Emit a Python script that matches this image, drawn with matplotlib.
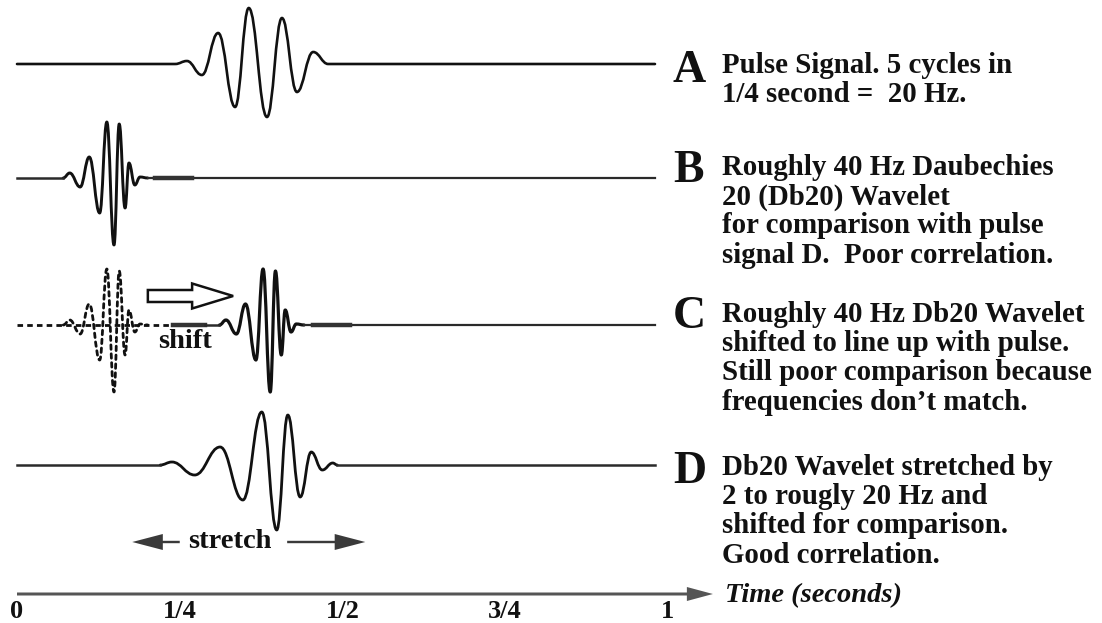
import matplotlib
matplotlib.use('Agg')
import matplotlib.pyplot as plt
from matplotlib.patches import FancyArrow, PathPatch
from matplotlib.path import Path
import numpy as np

# Data (time in seconds, amplitude in pixel units)
# --------------
# A: 20 Hz pulse signal
pulse_t = [0.0, 0.243, 0.261, 0.284, 0.309, 0.335, 0.356, 0.384, 0.407, 0.430, 0.455, 0.478, 0.980]
pulse_a = [0, 0, 3, -11, 31, -43, 56, -53, 46, -28, 12, 0, 0]

# B: roughly 40 Hz Db20 wavelet
db20_t = [0.071, 0.081, 0.097, 0.111, 0.127, 0.138, 0.149, 0.157, 0.166, 0.172, 0.181, 0.189, 0.201]
db20_a = [0, 5, -9, 21, -35, 56, -67, 54, -30, 15, -7, 1, 0]

# C: same wavelet shifted to line up with the pulse
shift_sec = 0.240

# D: wavelet stretched by 2 and shifted
stretch_t = [0.220, 0.238, 0.273, 0.312, 0.347, 0.376, 0.399, 0.416, 0.435, 0.452, 0.469, 0.485, 0.492]
stretch_a = [0, 3, -10, 18, -35, 53, -65, 50, -32, 13, -5, 2, 0]

# Time axis
tick_vals = [0, 0.25, 0.5, 0.75, 1]
tick_labels = ['0', '1/4', '1/2', '3/4', '1']

letters = ['A', 'B', 'C', 'D']
captions = [
    ['Pulse Signal. 5 cycles in', '1/4 second =  20 Hz.'],
    ['Roughly 40 Hz Daubechies', '20 (Db20) Wavelet', 'for comparison with pulse',
     'signal D.  Poor correlation.'],
    ['Roughly 40 Hz Db20 Wavelet', 'shifted to line up with pulse.',
     'Still poor comparison because', 'frequencies don\u2019t match.'],
    ['Db20 Wavelet stretched by', '2 to rougly 20 Hz and', 'shifted for comparison.',
     'Good correlation.'],
]

# Layout
# --------------
PX = 651.0          # pixels per second
X0 = 17.0           # pixel of t = 0
T_END = 0.980
base_y = [64, 178, 325, 465]
letter_base = [82, 182, 328, 483]
caption_base = [73, 175, 322, 475]
line_dy = 29.2
serif = ['Liberation Serif', 'DejaVu Serif']
ink = '#111111'
line_col = '#2a2a2a'

fig = plt.figure(figsize=(11.02, 6.23), dpi=100)
ax = fig.add_axes([0, 0, 1, 1])
ax.set_xlim(-X0 / PX, (1102 - X0) / PX)
ax.set_ylim(623, 0)
ax.set_axis_off()


def wave(y0, t, a, **kw):
    # smooth bezier path through the extrema, flat tangent at each extremum
    t = np.asarray(t, dtype=float)
    y = y0 - np.asarray(a, dtype=float)
    verts = [(t[0], y[0])]
    codes = [Path.MOVETO]
    for i in range(1, len(t)):
        dt = t[i] - t[i - 1]
        verts += [(t[i - 1] + 0.42 * dt, y[i - 1]), (t[i] - 0.42 * dt, y[i]), (t[i], y[i])]
        codes += [Path.CURVE4] * 3
    ax.add_patch(PathPatch(Path(verts, codes), fill=False, capstyle='round',
                           joinstyle='round', **kw))


# A pulse
wave(base_y[0], pulse_t, pulse_a, edgecolor=ink, lw=1.9)

# B wavelet
yb = base_y[1]
ax.plot([0, db20_t[0]], [yb, yb], color=line_col, lw=1.8)
wave(yb, db20_t, db20_a, edgecolor=ink, lw=2.1)
ax.plot([db20_t[-1], T_END], [yb, yb], color=line_col, lw=1.6)
ax.plot([0.212, 0.269], [yb, yb], color='#333333', lw=3.2)

# C: dashed original and shifted copy
yc = base_y[2]
ax.plot([0, 0.240], [yc, yc], color=ink, lw=2.0, ls=(0, (2.0, 1.5)))
wave(yc, db20_t, db20_a, edgecolor=ink, lw=2.0, ls=(0, (1.6, 1.6)))
ax.plot([0.240, 0.289], [yc, yc], color='#333333', lw=3.2)
c_t = np.asarray(db20_t) + shift_sec
ax.plot([0.289, c_t[0]], [yc, yc], color=line_col, lw=1.8)
wave(yc, c_t, db20_a, edgecolor=ink, lw=2.3)
ax.plot([c_t[-1], T_END], [yc, yc], color=line_col, lw=1.6)
ax.plot([0.455, 0.512], [yc, yc], color='#333333', lw=3.2)

# shift arrow (hollow)
ax.add_patch(FancyArrow(0.201, 296, 0.131, 0, width=12, head_width=25,
                        head_length=0.063, length_includes_head=True,
                        facecolor='white', edgecolor=ink, lw=1.8))
ax.text(0.258, 348, 'shift', family=serif, fontsize=20.5, fontweight='bold',
        ha='center', va='baseline', color=ink)

# D stretched wavelet
yd = base_y[3]
ax.plot([0, stretch_t[0]], [yd, yd], color=line_col, lw=1.8)
wave(yd, stretch_t, stretch_a, edgecolor=ink, lw=2.0)
ax.plot([stretch_t[-1], T_END], [yd, yd], color=line_col, lw=1.8)

# stretch arrows
for tail, tip in [(0.250, 0.177), (0.415, 0.535)]:
    ax.add_patch(FancyArrow(tail, 542, tip - tail, 0, width=2.4, head_width=16,
                            head_length=0.047, length_includes_head=True,
                            color='#3a3a3a', lw=0))
ax.text(0.327, 548, 'stretch', family=serif, fontsize=20.5, fontweight='bold',
        ha='center', va='baseline', color=ink)

# time axis
ax.add_patch(FancyArrow(0, 594, 1.069, 0, width=3, head_width=14,
                        head_length=0.040, length_includes_head=True,
                        color='#555555', lw=0))
for v, lab in zip(tick_vals, tick_labels):
    ax.text(v, 618, lab, family=serif, fontsize=19, fontweight='bold',
            ha='center', va='baseline', color=ink)
ax.text((725 - X0) / PX, 602, 'Time (seconds)', family=serif, fontsize=20.5,
        fontweight='bold', fontstyle='italic', ha='left', va='baseline', color=ink)

# captions
for i, (let, lines) in enumerate(zip(letters, captions)):
    ax.text((673 - X0) / PX, letter_base[i], let, family=serif, fontsize=33,
            fontweight='bold', ha='left', va='baseline', color=ink)
    for j, s in enumerate(lines):
        ax.text((722 - X0) / PX, caption_base[i] + j * line_dy, s, family=serif,
                fontsize=20.8, fontweight='bold', ha='left', va='baseline', color=ink)

fig.savefig('out.png', dpi=100, facecolor='white')
